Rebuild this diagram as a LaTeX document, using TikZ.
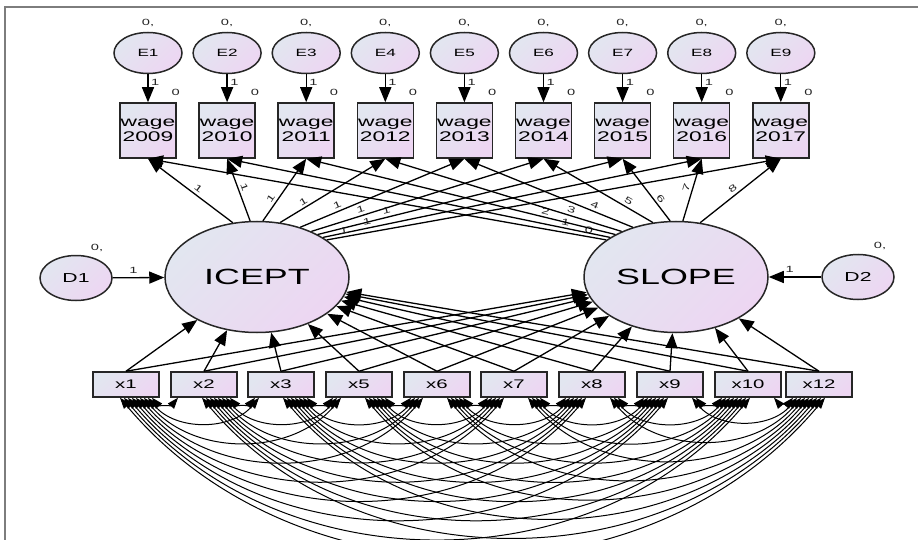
\documentclass[tikz,border=0pt]{standalone}
\usepackage{fontspec}
\setmainfont{Liberation Sans}
\newfontfamily\amosfont[FakeStretch=1.63]{Liberation Sans}
\usetikzlibrary{arrows.meta,positioning,shapes.geometric}

\definecolor{fillA}{RGB}{226,230,240}
\definecolor{fillB}{RGB}{237,214,242}
\definecolor{framegray}{RGB}{125,125,125}

\begin{document}
\begin{tikzpicture}[
    x=1pt, y=1pt,
    bigvar/.style={ellipse, draw=black!85, line width=1.5pt, top color=fillA, bottom color=fillB, shading angle=45, minimum width=184pt, minimum height=111pt, inner sep=0pt, font=\amosfont\fontsize{22}{24}\selectfont},
    errvar/.style={ellipse, draw=black!85, line width=1.5pt, top color=fillA, bottom color=fillB, shading angle=45, minimum width=68pt, minimum height=41pt, inner sep=0pt, font=\amosfont\fontsize{10.5}{12}\selectfont},
    distvar/.style={errvar, minimum width=72pt, minimum height=45pt, font=\amosfont\fontsize{13}{14}\selectfont},
    wagebox/.style={rectangle, draw=black!85, line width=1.5pt, top color=fillA, bottom color=fillB, shading angle=45, minimum width=56pt, minimum height=55pt, inner sep=0pt, align=center, font=\amosfont\fontsize{14}{14.5}\selectfont},
    xbox/.style={wagebox, minimum width=66pt, minimum height=25pt, font=\amosfont\fontsize{12.5}{13}\selectfont},
    path/.style={-{Triangle[length=15pt,width=12pt]}, line width=1.3pt},
    cov/.style={{Triangle[length=11pt,width=8pt]}-{Triangle[length=11pt,width=8pt]}, line width=1pt},
    prm/.style={font=\amosfont\fontsize{9}{10}\selectfont, text=black!85, inner sep=0.5pt}
  ]
  \useasboundingbox (0,0) rectangle (918,-540);

  % Frame
  \draw[framegray, line width=1.5pt] (5,-540) -- (5,-7) -- (918,-7);

  % Errors and wage indicators
  \foreach \yr [count=\i] in {2009,...,2017} {
    \node[errvar] (e\i) at ({148+79.1*(\i-1)},-53) {E\i};
    \node[wagebox] (w\i) at ({148+79.1*(\i-1)},-130.5) {wage\\\yr};
    \node[prm] at ([yshift=9pt]e\i.north) {0,};
    \node[prm] at ([xshift=-1pt,yshift=10pt]w\i.north east) {0};
    \draw[path] (e\i) -- (w\i) node[prm, pos=0.3, right=2pt] {1};
  }

  % Latent growth factors
  \node[bigvar] (icept) at (257,-277) {ICEPT};
  \node[bigvar] (slope) at (676,-277) {SLOPE};
  \node[distvar] (d1) at (76,-278) {D1};
  \node[distvar] (d2) at (858,-277) {D2};
  \node[prm] at ([xshift=21pt,yshift=7pt]d1.north) {0,};
  \node[prm] at ([xshift=22pt,yshift=8pt]d2.north) {0,};
  \draw[path] (d1) -- (icept) node[prm, pos=0.4, above=3pt] {1};
  \draw[path] (d2) -- (slope) node[prm, pos=0.6, above=3pt] {1};

  % Loadings
  \foreach \ia/\sa/\ip/\sp [count=\i] in {114/152/0.45/0.04, 97/149/0.5/0.12, 84/145/0.3/0.23,
      67/140/0.25/0.22, 49/131/0.24/0.24, 40/113/0.22/0.25, 35/96/0.23/0.3, 31/83/0.12/0.5, 28/66/0.04/0.45} {
    \draw[path] (icept.\ia) -- (w\i.south) node[prm, sloped, pos=\ip, above=2pt] {1};
    \draw[path] (slope.\sa) -- (w\i.south) node[prm, sloped, pos=\sp, above=2pt] {\the\numexpr\i-1\relax};
  }

  % Covariates
  \foreach \lab/\px [count=\i] in {1/126, 2/204, 3/281, 5/359, 6/437, 7/514, 8/592, 9/670, 10/748, 12/819} {
    \node[xbox] (x\i) at (\px,-384.5) {x\lab};
  }

  % Regressions on covariates
  \foreach \i in {1,...,10} {
    \draw[path] (x\i.north) -- (icept);
    \draw[path] (x\i.north) -- (slope);
  }

  % Covariances among covariates
  \foreach \i in {1,...,9} {
    \pgfmathtruncatemacro\nxt{\i+1}
    \foreach \j in {\nxt,...,10} {
      \pgfmathsetmacro\off{26-4*(\j-\i-1)}
      \draw[cov] ([xshift=\off pt]x\i.south) to[bend right=50] ([xshift=-\off pt]x\j.south);
    }
  }

\end{tikzpicture}
\end{document}
